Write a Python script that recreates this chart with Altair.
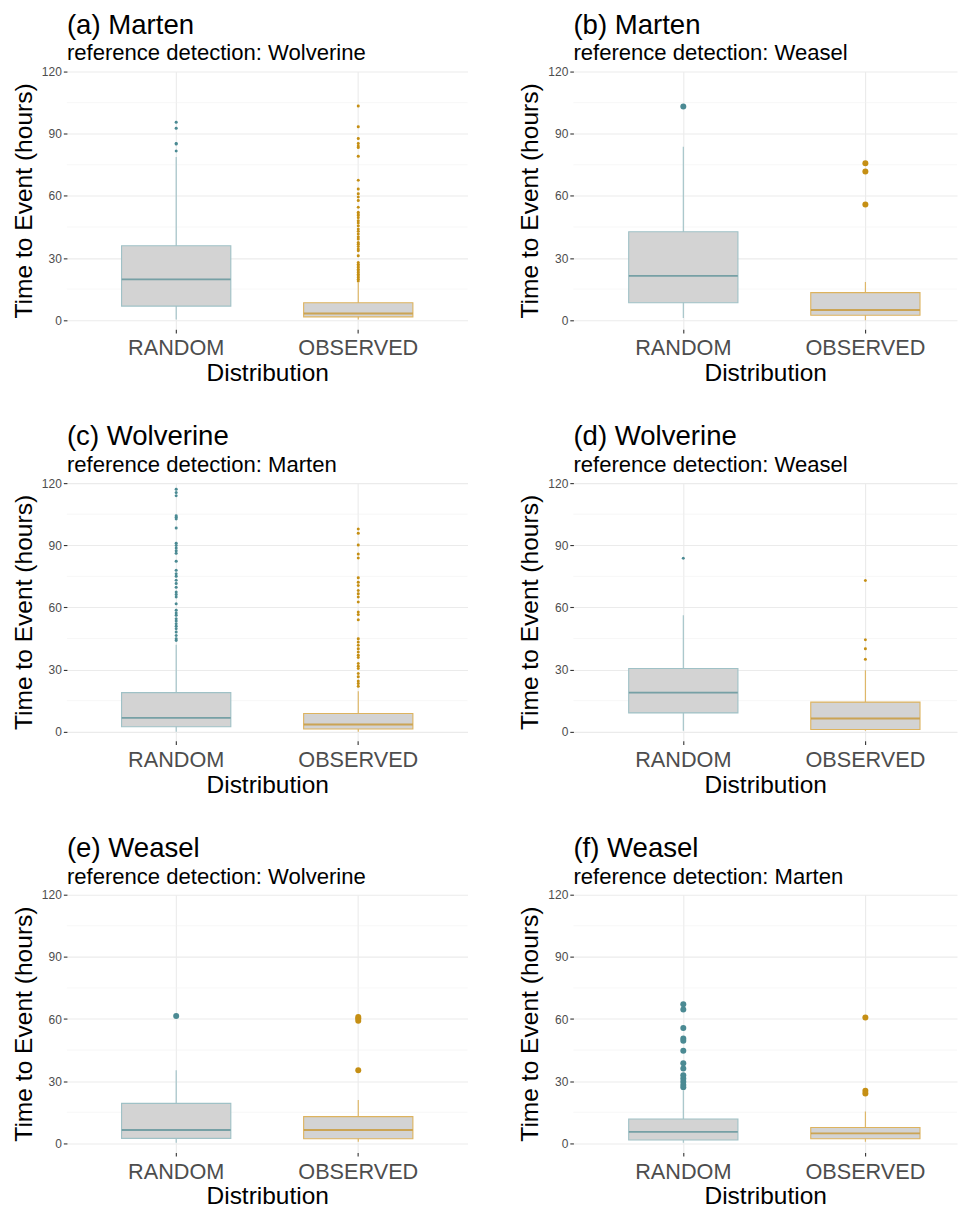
import altair as alt
import pandas as pd

DISTS = ["RANDOM", "OBSERVED"]
MAJOR_TICKS = [0, 30, 60, 90, 120]
MINOR_TICKS = [15, 45, 75, 105]

TITLES = ["(a) Marten", "(b) Marten", "(c) Wolverine", "(d) Wolverine", "(e) Weasel", "(f) Weasel"]
SUBTITLES = ["reference detection: Wolverine", "reference detection: Weasel",
             "reference detection: Marten", "reference detection: Weasel",
             "reference detection: Wolverine", "reference detection: Marten"]

# box stats: [lower whisker, q1, median, q3, upper whisker]
A_RANDOM_STATS = [0.3, 6.8, 19.7, 35.9, 78.8]
A_OBSERVED_STATS = [0.3, 1.6, 3.2, 8.4, 18.1]
A_RANDOM_OUT = [95.5, 92.6, 85.3, 85.0, 81.7]
A_OBSERVED_OUT = [103.4, 93.4, 87.7, 85.3, 84.1, 83.3, 79.1, 67.5, 63.3, 61.0, 59.4, 57.8,
                  54.5, 52.1, 51.3, 50.5, 49.4, 48.0, 46.9, 45.6, 44.0, 42.9, 41.6, 40.3,
                  39.2, 37.5, 36.7, 35.6, 34.3, 33.5, 31.1, 27.8, 27.0, 26.2, 25.4, 24.6,
                  23.8, 23.0, 22.2, 21.4, 20.6, 19.7, 18.9]

B_RANDOM_STATS = [1.1, 8.4, 21.4, 42.7, 83.7]
B_OBSERVED_STATS = [0.0, 2.4, 4.9, 13.3, 18.4]
B_RANDOM_OUT = [103.1]
B_OBSERVED_OUT = [75.7, 71.8, 55.8]

C_RANDOM_STATS = [0.0, 2.4, 6.7, 18.9, 42.0]
C_OBSERVED_STATS = [0.0, 1.3, 3.5, 8.8, 19.6]
C_RANDOM_OUT = [117.1, 115.5, 113.9, 104.3, 103.5, 102.7, 98.3, 91.0, 89.9, 88.7, 87.4, 86.2,
                82.3, 77.9, 76.3, 75.0, 73.1, 71.5, 69.8, 67.4, 66.3, 65.0, 61.8, 58.6, 57.3,
                56.2, 54.5, 53.4, 52.1, 50.9, 49.7, 48.1, 46.5, 44.9, 44.1]
C_OBSERVED_OUT = [97.9, 95.8, 90.1, 85.8, 83.9, 74.3, 72.2, 70.6, 68.2, 66.6, 65.0, 62.6, 57.8,
                  56.6, 54.1, 44.9, 43.3, 41.7, 40.1, 38.5, 36.9, 35.8, 32.9, 31.6, 30.5, 28.1,
                  26.5, 24.5, 23.3, 22.0]

D_RANDOM_STATS = [0.5, 9.1, 18.9, 30.5, 56.2]
D_OBSERVED_STATS = [0.5, 1.1, 6.4, 14.3, 29.7]
D_RANDOM_OUT = [83.7]
D_OBSERVED_OUT = [73.0, 44.4, 40.1, 35.0]

E_RANDOM_STATS = [0.3, 2.4, 6.4, 19.3, 35.3]
E_OBSERVED_STATS = [0.8, 2.2, 6.4, 12.9, 20.9]
E_RANDOM_OUT = [61.4]
E_OBSERVED_OUT = [61.0, 60.2, 59.1, 35.3]

F_RANDOM_STATS = [0.3, 1.6, 5.5, 11.7, 25.5]
F_OBSERVED_STATS = [0.8, 2.2, 4.8, 7.6, 15.3]
F_RANDOM_OUT = [67.1, 64.6, 55.7, 50.6, 49.5, 44.7, 38.6, 36.1, 32.9, 31.3, 29.7, 28.1, 27.0]
F_OBSERVED_OUT = [60.7, 25.4, 24.1]

PANELS = [
    (A_RANDOM_STATS, A_OBSERVED_STATS, A_RANDOM_OUT, A_OBSERVED_OUT, 9),
    (B_RANDOM_STATS, B_OBSERVED_STATS, B_RANDOM_OUT, B_OBSERVED_OUT, 36),
    (C_RANDOM_STATS, C_OBSERVED_STATS, C_RANDOM_OUT, C_OBSERVED_OUT, 9),
    (D_RANDOM_STATS, D_OBSERVED_STATS, D_RANDOM_OUT, D_OBSERVED_OUT, 9),
    (E_RANDOM_STATS, E_OBSERVED_STATS, E_RANDOM_OUT, E_OBSERVED_OUT, 36),
    (F_RANDOM_STATS, F_OBSERVED_STATS, F_RANDOM_OUT, F_OBSERVED_OUT, 36),
]

FONT = "Liberation Sans"
TEAL = "#4B8A93"
TEAL_LIGHT = "#9FC1C6"
GOLD = "#C58F14"
GOLD_LIGHT = "#DDB35E"
GOLD_MED = "#C8901E"
TEAL_MED = "#4E8A92"

LEFT_W = 401
RIGHT_W = 384


def is_random(field="dist"):
    return f"datum.{field} == 'RANDOM'"


def make_panel(idx, width, right_col):
    r_stats, o_stats, r_out, o_out, psize = PANELS[idx]
    box_df = pd.DataFrame({
        "dist": DISTS,
        "lo": [r_stats[0], o_stats[0]],
        "q1": [r_stats[1], o_stats[1]],
        "med": [r_stats[2], o_stats[2]],
        "q3": [r_stats[3], o_stats[3]],
        "hi": [r_stats[4], o_stats[4]],
    })
    out_df = pd.DataFrame({
        "dist": ["RANDOM"] * len(r_out) + ["OBSERVED"] * len(o_out),
        "value": list(r_out) + list(o_out),
    })
    minor_df = pd.DataFrame({"v": MINOR_TICKS})

    if right_col:
        # right-hand panels are cut off at the page edge in the original
        x_scale = alt.Scale(domain=DISTS, paddingInner=0, paddingOuter=0.0534, align=0.97)
    else:
        x_scale = alt.Scale(domain=DISTS, paddingInner=0, paddingOuter=0.1)
    y_scale = alt.Scale(domain=[-4.4, 120], nice=False, zero=False)
    x_axis = alt.Axis(title="Distribution", grid=True, bandPosition=0.5,
                      gridColor="#EBEBEB", gridWidth=1.1, domain=False,
                      ticks=True, tickColor="#333333", tickSize=3.6, tickWidth=1.1,
                      labelFont=FONT, labelFontSize=21.7, labelColor="#4D4D4D",
                      labelPadding=5, labelAngle=0,
                      titleFont=FONT, titleFontSize=24.5, titleFontWeight="normal",
                      titleColor="black", titlePadding=2)
    y_axis = alt.Axis(title="Time to Event (hours)", values=MAJOR_TICKS, grid=True,
                      gridColor="#EBEBEB", gridWidth=1.1, domain=False,
                      ticks=True, tickColor="#333333", tickSize=3.6, tickWidth=1.1,
                      labelFont=FONT, labelFontSize=12, labelColor="#4D4D4D",
                      labelPadding=2,
                      titleFont=FONT, titleFontSize=24.6, titleFontWeight="normal",
                      titleColor="black", titlePadding=5)
    X = alt.X("dist:N", sort=DISTS, scale=x_scale, axis=x_axis)

    minor = alt.Chart(minor_df).mark_rule(color="#F2F2F2", strokeWidth=0.6).encode(
        y=alt.Y("v:Q", scale=y_scale, axis=y_axis)
    )
    whisker = alt.Chart(box_df).mark_rule(strokeWidth=1.1).encode(
        x=X,
        y=alt.Y("lo:Q", scale=y_scale, axis=y_axis),
        y2="hi:Q",
        color=alt.condition(is_random(), alt.value(TEAL_LIGHT), alt.value(GOLD_LIGHT)),
    )
    box = alt.Chart(box_df).mark_bar(width={"band": 0.6}, fill="#D3D3D3",
                                     strokeWidth=1.1).encode(
        x=X,
        y=alt.Y("q1:Q", scale=y_scale, axis=y_axis),
        y2="q3:Q",
        stroke=alt.condition(is_random(), alt.value(TEAL_LIGHT), alt.value(GOLD_LIGHT)),
    )
    median = alt.Chart(box_df).mark_tick(thickness=1.9, size=109).encode(
        x=X,
        y=alt.Y("med:Q", scale=y_scale, axis=y_axis),
        color=alt.condition(is_random(), alt.value(TEAL_MED), alt.value(GOLD_MED)),
    )
    points = alt.Chart(out_df).mark_circle(size=psize, opacity=1).encode(
        x=X,
        y=alt.Y("value:Q", scale=y_scale, axis=y_axis),
        color=alt.condition(is_random(), alt.value(TEAL), alt.value(GOLD)),
    )
    return alt.layer(minor, whisker, box, median, points).properties(
        width=width, height=258,
        title=alt.TitleParams(text=TITLES[idx], subtitle=SUBTITLES[idx], anchor="start",
                              frame="group",
                              font=FONT, fontSize=27.6, fontWeight="normal", color="black",
                              subtitleFont=FONT, subtitleFontSize=22.1,
                              subtitleColor="black", subtitlePadding=4, offset=1),
    )


rows = []
for r in range(3):
    left = make_panel(2 * r, LEFT_W, False)
    right = make_panel(2 * r + 1, RIGHT_W, True)
    rows.append(alt.hconcat(left, right, spacing=49))

chart = alt.vconcat(*rows, spacing=38).properties(
    padding={"left": 3, "top": 3, "right": 0, "bottom": 0},
    background="white",
).configure_view(strokeWidth=0, stroke="transparent")

chart.save("out.html", embed_options={"renderer": "svg", "actions": False})
